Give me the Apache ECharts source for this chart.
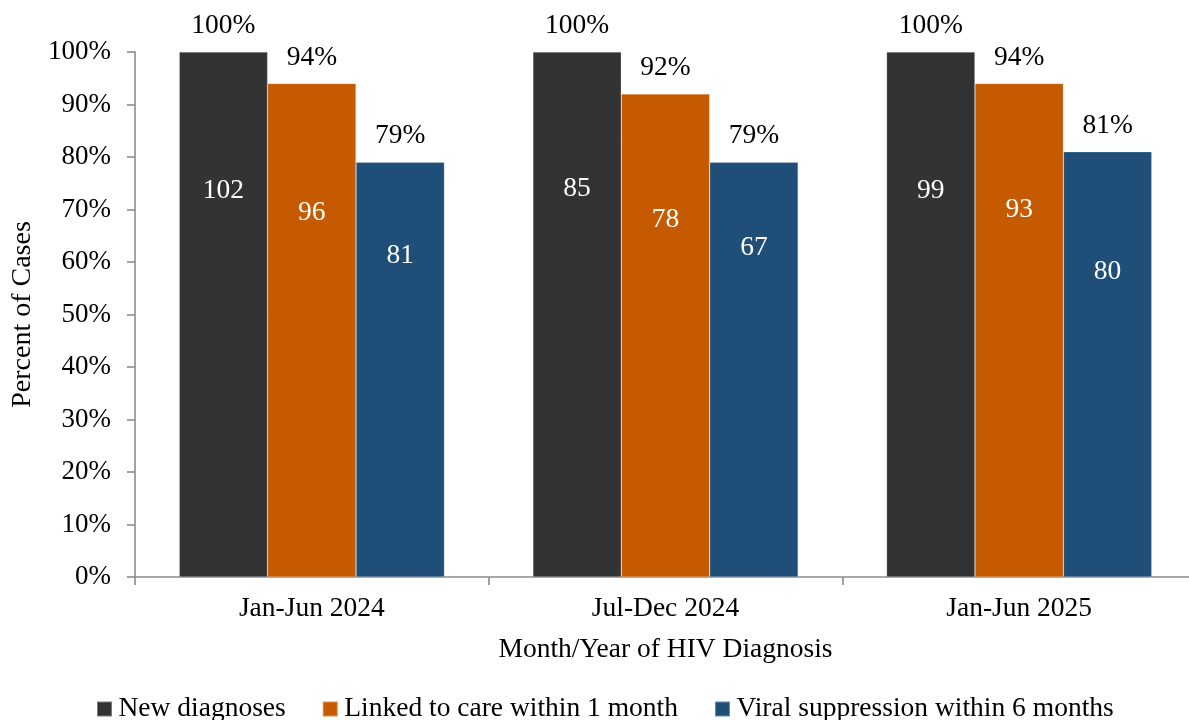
<!DOCTYPE html>
<html>
<head>
<meta charset="utf-8">
<script src="https://cdn.jsdelivr.net/npm/echarts@6/dist/echarts.min.js"></script>
<style>
html,body{margin:0;padding:0;background:#fff;overflow:hidden;width:1189px;height:720px;}
#chart{width:1200px;height:720px;}
</style>
</head>
<body>
<div id="chart"></div>
<script>
var categories = ['Jan-Jun 2024', 'Jul-Dec 2024', 'Jan-Jun 2025'];
var seriesNames = ['New diagnoses', 'Linked to care within 1 month', 'Viral suppression within 6 months'];
var newDiagPct = [100, 100, 100];
var newDiagCount = [102, 85, 99];
var linkedPct = [94, 92, 94];
var linkedCount = [96, 78, 93];
var viralPct = [79, 79, 81];
var viralCount = [81, 67, 80];
var yTicks = [0, 10, 20, 30, 40, 50, 60, 70, 80, 90, 100];

// layout: vertical placement of the count label inside each bar (fraction of bar height from top)
var countLabelFrac = [
  ['26.4%', '26.1%', '26.4%'],
  ['26.2%', '26.1%', '25.6%'],
  ['22.5%', '20.6%', '28.2%']
];

var colors = ['#333333', '#C55A00', '#1F4E79'];
var FONT = "'Liberation Serif', 'Times New Roman', serif";
var pctSets = [newDiagPct, linkedPct, viralPct];
var countSets = [newDiagCount, linkedCount, viralCount];

var series = [];
for (var s = 0; s < 3; s++) {
  (function (s) {
    series.push({
      name: seriesNames[s],
      type: 'bar',
      stack: 'g' + s,
      barCategoryGap: '25%',
      barGap: '0%',
      itemStyle: { color: colors[s], borderColor: 'rgba(255,255,255,0.35)', borderWidth: 0.6 },
      data: pctSets[s].map(function (v, i) {
        return {
          value: v,
          label: { position: ['50%', countLabelFrac[s][i]] }
        };
      }),
      label: {
        show: true,
        align: 'center',
        verticalAlign: 'middle',
        color: '#ffffff',
        fontFamily: FONT,
        fontSize: 27.5,
        formatter: function (p) { return String(countSets[s][p.dataIndex]); }
      },
      emphasis: { disabled: true }
    });
    series.push({
      name: seriesNames[s] + ' label',
      type: 'bar',
      stack: 'g' + s,
      barCategoryGap: '25%',
      barGap: '0%',
      itemStyle: { color: 'transparent' },
      data: pctSets[s].map(function () { return 0; }),
      label: {
        show: true,
        position: 'top',
        distance: 12,
        color: '#000000',
        fontFamily: FONT,
        fontSize: 27.5,
        formatter: function (p) { return pctSets[s][p.dataIndex] + '%'; }
      },
      emphasis: { disabled: true }
    });
  })(s);
}

var chart = echarts.init(document.getElementById('chart'), null, { renderer: 'canvas' });
chart.setOption({
  animation: false,
  backgroundColor: '#ffffff',
  grid: { left: 135, right: 4, top: 52, bottom: 143, containLabel: false },
  legend: {
    data: seriesNames,
    left: 96,
    top: 695,
    padding: 0,
    icon: 'rect',
    itemWidth: 15,
    itemHeight: 15,
    itemGap: 36,
    textStyle: { fontFamily: FONT, fontSize: 27.5, color: '#000000', padding: [0, 0, 0, 1.5] },
    selectedMode: false
  },
  xAxis: {
    type: 'category',
    data: categories,
    boundaryGap: true,
    name: 'Month/Year of HIV Diagnosis',
    nameLocation: 'middle',
    nameGap: 59,
    nameTextStyle: { fontFamily: FONT, fontSize: 27.5, color: '#000000' },
    axisLine: { show: true, lineStyle: { color: '#8c8c8c', width: 1.6 } },
    axisTick: { show: true, length: 8, alignWithLabel: false, lineStyle: { color: '#8c8c8c', width: 1.6 } },
    axisLabel: { margin: 18, fontFamily: FONT, fontSize: 27.5, color: '#000000' },
    splitLine: { show: false }
  },
  yAxis: {
    type: 'value',
    min: yTicks[0],
    max: yTicks[yTicks.length - 1],
    interval: yTicks[1] - yTicks[0],
    name: 'Percent of Cases',
    nameLocation: 'middle',
    nameGap: 97,
    nameRotate: 90,
    nameTextStyle: { fontFamily: FONT, fontSize: 28, color: '#000000' },
    axisLine: { show: true, lineStyle: { color: '#8c8c8c', width: 1.6 } },
    axisTick: { show: true, length: 8, inside: false, lineStyle: { color: '#8c8c8c', width: 1.6 } },
    axisLabel: { margin: 24, fontFamily: FONT, fontSize: 27, color: '#000000', formatter: '{value}%' },
    splitLine: { show: false }
  },
  series: series
});
</script>
</body>
</html>
